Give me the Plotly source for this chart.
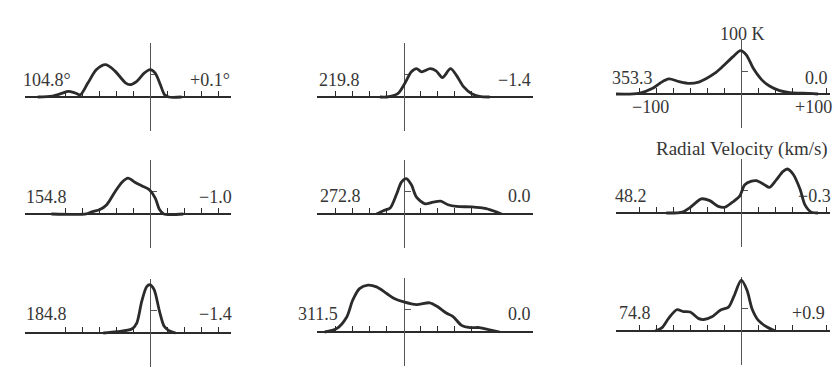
import plotly.graph_objects as go

W, H = 836, 376

# ---------------- data ----------------
longitudes = ["104.8°", "219.8", "353.3", "154.8", "272.8", "48.2", "184.8", "311.5", "74.8"]
latitudes = ["+0.1°", "−1.4", "0.0", "−1.0", "0.0", "−0.3", "−1.4", "0.0", "+0.9"]

# radial velocity (km/s) and brightness temperature (K) for each profile
v_104 = [-132, -115, -104, -96, -88, -82, -73, -63, -52, -41, -29, -24, -16, -7, 0, 6, 12, 17, 22, 37]
T_104 = [0, 2, 8, 12.8, 9, 5, 32, 62, 73, 58, 32, 28, 35, 54, 62, 54, 28, 5, 0, 0]

v_219 = [-28, -20, -7, 1, 9, 15, 21, 31, 38, 45.5, 55, 62, 70, 80, 89, 101]
T_219 = [0, 0, 7.5, 30, 57, 64, 57, 64, 59, 44, 64, 49, 24, 7.5, 1.5, 0]

v_353 = [-147, -120, -104, -95, -85, -73, -61, -50, -41, -31, -22, -10, -1, 6, 14, 24, 33, 45, 57, 80, 90]
T_353 = [0, 1.5, 13, 25, 34, 28, 24, 27, 35, 47, 62, 84, 98, 88, 58, 32, 18, 7.5, 3, 1.5, 0]

v_154 = [-116, -75, -69, -59, -51, -41, -33, -26, -18, -10, -1, 6, 11, 16, 39]
T_154 = [0, 0, 4.5, 10, 21, 51, 72, 81, 72, 64, 55, 36, 10, 0, 0]

v_272 = [-32, -24, -16, -8.6, -2.7, 3, 9, 15, 25, 34.5, 43.5, 52, 62, 80, 97, 107, 115]
T_272 = [0, 7.5, 13.6, 44, 72, 80, 66, 38, 23, 27, 29, 21, 17, 16, 12, 6, 0]

v_48 = [-88, -69, -61, -53, -47, -37, -27, -19.6, -10, -2, 4, 12, 17.6, 27, 33, 41, 49, 54, 61, 69, 74.5, 82, 90]
T_48 = [0, 2, 11, 24, 32, 28, 15, 13, 25, 38, 64, 72, 73, 64, 58, 75, 94, 99.5, 87, 53, 19, 2, 0]

v_184 = [-55, -39, -21.6, -15.7, -9.8, -4, 0, 4.7, 11, 16.5, 21.6, 27, 30]
T_184 = [0, 3, 9, 22.6, 72, 105, 109, 98, 49, 15, 6, 1.5, 0]

v_311 = [-93, -79, -67, -60, -52, -42, -32, -20, -10.6, 0, 15, 30.6, 40, 50, 58, 68, 78, 89, 101, 113]
T_311 = [0, 7.5, 34, 72, 98, 106, 102, 87, 75, 68, 62, 66, 57, 43, 35, 15, 10, 10, 5, 0]

v_74 = [-101, -93, -85.5, -75.7, -68, -60, -50, -44, -34.5, -24.7, -15, -9, 0, 6.7, 12.5, 20, 30, 38, 40]
T_74 = [0, 7.5, 28, 48, 44, 43, 28, 26, 32, 47, 54, 77, 115, 92, 50.5, 24, 9, 1.5, 0]

profiles_v = [v_104, v_219, v_353, v_154, v_272, v_48, v_184, v_311, v_74]
profiles_T = [T_104, T_219, T_353, T_154, T_272, T_48, T_184, T_311, T_74]

# velocity ticks per column (km/s) and temperature tick (K)
ticks_col1 = [-100, -80, -60, -40, -20, 20, 40, 60, 80, 100]
ticks_col2 = [-80, -60, -40, -20, 20, 40, 60, 80]
ticks_col3 = [-120, -100, -80, -60, -40, -20, 20, 40, 60, 100]
temp_ticks = [50]
vel_ranges = [[-147, 95], [-102, 152], [-147, 104]]
temp_range = [-76, 123]

# ---------------- layout geometry (pixels) ----------------
col_px = [(25, 231), (317, 533), (616, 830)]
baseline_px = [97, 97, 94, 214, 214, 213, 333, 332, 331]
col_ticks = [ticks_col1, ticks_col2, ticks_col3]


def fx(px):
    return px / W


def fy(py):
    return 1 - py / H


INK = "#2b2b2b"
TXT = "#363636"
FONT = "Liberation Serif, DejaVu Serif, serif"

fig = go.Figure()
layout = dict(
    width=W, height=H, margin=dict(l=0, r=0, t=0, b=0),
    paper_bgcolor="white", plot_bgcolor="rgba(0,0,0,0)", showlegend=False,
)

tspan = temp_range[1] - temp_range[0]
pxpk = 88 / tspan  # pixels per K

annotations = []
for i in range(9):
    r, c = divmod(i, 3)
    n = "" if i == 0 else str(i + 1)
    x0, x1 = col_px[c]
    vr = vel_ranges[c]
    base = baseline_px[i]
    top = base - temp_range[1] * pxpk
    bot = base - temp_range[0] * pxpk
    zero_px = x0 + (0 - vr[0]) / (vr[1] - vr[0]) * (x1 - x0)

    layout["xaxis" + n] = dict(
        domain=[fx(x0), fx(x1)], range=vr, anchor="free", position=fy(base),
        showline=True, linecolor=INK, linewidth=1.5,
        ticks="inside", ticklen=5, tickwidth=1.2, tickcolor=INK,
        tickvals=col_ticks[c], showticklabels=False,
        showgrid=False, zeroline=False, layer="below traces", fixedrange=True,
    )
    layout["yaxis" + n] = dict(
        domain=[fy(bot), fy(top)], range=temp_range, anchor="free", position=fx(zero_px),
        showline=True, linecolor="#555", linewidth=1,
        ticks="inside", ticklen=6, tickwidth=1, tickcolor="#555",
        tickvals=temp_ticks, showticklabels=False,
        showgrid=False, zeroline=False, layer="below traces", fixedrange=True,
    )
    fig.add_trace(go.Scatter(
        x=profiles_v[i], y=profiles_T[i], mode="lines",
        line=dict(color=INK, width=2.8, shape="spline", smoothing=0.8),
        xaxis="x" + n, yaxis="y" + n, hoverinfo="skip",
    ))


def ann(text, px, py, xanchor="left", size=18):
    annotations.append(dict(
        text=text, x=fx(px), y=fy(py), xref="paper", yref="paper",
        xanchor=xanchor, yanchor="middle", showarrow=False,
        font=dict(family=FONT, size=size, color=TXT),
    ))


left_pos = [(21, 80), (317, 80), (610, 78), (24, 197), (318, 196), (613, 196),
            (24, 314), (296, 314), (617, 313)]
right_pos = [(232, 80, "right"), (533, 80, "right"), (830, 78, "right"),
             (234, 197, "right"), (533, 196, "right"), (796, 196, "left"),
             (234, 314, "right"), (533, 314, "right"), (827, 313, "right")]
for i in range(9):
    lx, ly = left_pos[i]
    ann(longitudes[i], lx, ly, "left")
    rx, ry, ra = right_pos[i]
    ann(latitudes[i], rx, ry, ra)

ann("100 K", 742, 34, "center")
ann("−100", 650, 107, "center")
ann("+100", 834, 107, "right")
ann("Radial Velocity (km/s)", 742, 149, "center", 19)

layout["annotations"] = annotations
fig.update_layout(**layout)
fig.write_html(
    "out.html",
    config={"displayModeBar": False},
    post_script="document.body.style.margin='0';document.body.style.overflow='hidden';",
)
